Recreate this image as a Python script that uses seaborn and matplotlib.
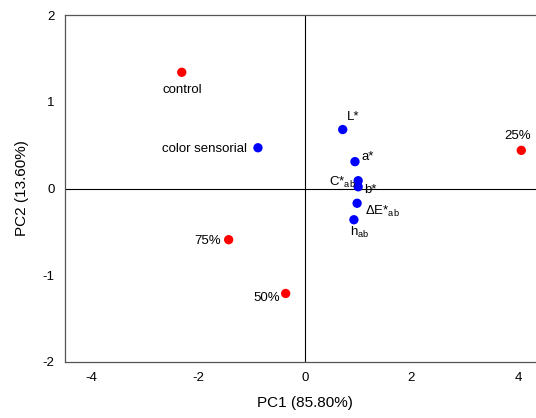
import matplotlib
matplotlib.use("Agg")
import matplotlib.pyplot as plt
import pandas as pd
import seaborn as sns

sns.set_style("white")
plt.rcParams["font.family"] = ["Liberation Sans", "DejaVu Sans"]
plt.rcParams["mathtext.fontset"] = "custom"
plt.rcParams["mathtext.rm"] = "Liberation Sans"
plt.rcParams["mathtext.it"] = "Liberation Sans"
plt.rcParams["axes.unicode_minus"] = False
plt.rcParams["text.color"] = "black"
plt.rcParams["axes.labelcolor"] = "black"

# Scores (red) and loadings (blue)
labels = ["control", "25%", "50%", "75%",
          "color sensorial", "L*", "a*", r"C*$_{\rm ab}$", "b*",
          r"ΔE*$_{\rm ab}$", r"h$_{\rm ab}$"]
pc1 = [-2.31, 4.06, -0.36, -1.43, -0.88, 0.71, 0.94, 1.00, 1.00, 0.98, 0.92]
pc2 = [1.34, 0.44, -1.21, -0.59, 0.47, 0.68, 0.31, 0.09, 0.02, -0.17, -0.36]
group = ["sample"] * 4 + ["attribute"] * 7

# label offsets in points (dx, dy)
offsets = [(-14, -13), (-12, 10), (-23, -3), (-25, -1),
           (-69, -1), (3, 9), (5, 3), (-21, -1),
           (4, -2), (6, -6), (-3, -9)]

df = pd.DataFrame({"PC1": pc1, "PC2": pc2, "group": group, "label": labels})

fig = plt.figure(figsize=(5.36, 4.18), dpi=100)
ax = fig.add_axes([0.1213, 0.134, 0.895, 0.830])

ax.axhline(0, color="black", lw=0.8, zorder=1)
ax.axvline(0, color="black", lw=0.8, zorder=1)

sns.scatterplot(data=df, x="PC1", y="PC2", hue="group",
                palette={"sample": "#ff0000", "attribute": "#0000ff"},
                s=45, edgecolor="none", legend=False, ax=ax, zorder=3)

for (_, row), (dx, dy) in zip(df.iterrows(), offsets):
    ax.annotate(row["label"], (row["PC1"], row["PC2"]), xytext=(dx, dy),
                textcoords="offset points", ha="left", va="center",
                fontsize=9.5, color="black")

ax.set_xlim(-4.5, 4.5)
ax.set_ylim(-2, 2)
ax.set_xticks([-4, -2, 0, 2, 4])
ax.set_yticks([-2, -1, 0, 1, 2])
ax.tick_params(direction="out", length=4, width=0.8, color="#555555",
               labelcolor="black", labelsize=9.5)
for sp in ax.spines.values():
    sp.set_color("#555555")
    sp.set_linewidth(0.9)

ax.set_xlabel("PC1 (85.80%)", fontsize=11, labelpad=8)
ax.set_ylabel("PC2 (13.60%)", fontsize=11, labelpad=10)

fig.savefig("out.png", dpi=100)
